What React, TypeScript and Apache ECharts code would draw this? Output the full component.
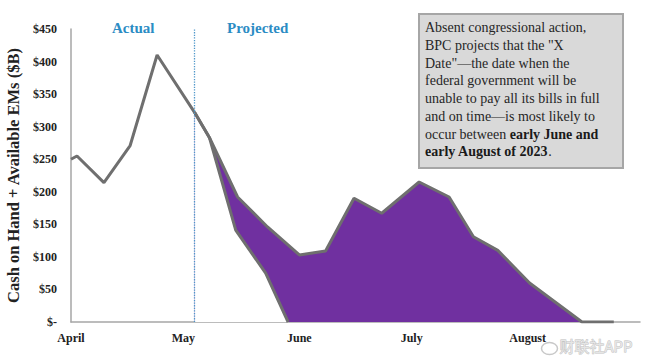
import React, { useEffect, useRef } from "react";
import * as echarts from "echarts";

// x values are days counted from April 1, 2023
const monthTicks = [0, 30, 61, 91, 122];
const monthNames = ["April", "May", "June", "July", "August"];
const yTicksMax = 450;
const yTickStep = 50;

const actualSeries: [number, number][] = [
  [0, 250], [1.6, 255], [8.8, 214], [15.8, 271], [23, 410], [33, 322],
];
const upperBound: [number, number][] = [
  [33, 322], [37, 283], [44.5, 192], [52.5, 146], [61, 103], [68, 109],
  [75.6, 190], [83, 167], [93, 215], [101, 192], [107.5, 131], [114, 110],
  [122.5, 60], [136.5, 0], [145, 0],
];
const lowerBound: [number, number][] = [
  [33, 322], [37, 283], [44, 141], [52, 75], [58, 0],
];
const xDateDay = 33;

const serif = "'Liberation Serif', 'DejaVu Serif', serif";

export default function App() {
  const ref = useRef<HTMLDivElement>(null);
  useEffect(() => {
    if (!ref.current) return;
    const chart = echarts.init(ref.current, undefined, { renderer: "svg" });
    const lineGray = "#6f6f6f";
    chart.setOption({
      animation: false,
      backgroundColor: "#ffffff",
      grid: { left: 71, right: 10, top: 29, bottom: 41, outerBoundsMode: "none", containLabel: false },
      xAxis: {
        type: "value",
        min: 0,
        max: 152,
        axisLine: { show: true, lineStyle: { color: "#a6a6a6", width: 1.5 } },
        axisTick: { show: false },
        splitLine: { show: false },
        axisLabel: {
          customValues: monthTicks,
          showMinLabel: true,
          margin: 10,
          fontFamily: serif,
          fontWeight: "bold",
          fontSize: 12,
          color: "#222",
          formatter: (v: number) => {
            const i = monthTicks.indexOf(v);
            return i >= 0 ? monthNames[i] : "";
          },
        },
      },
      yAxis: {
        type: "value",
        min: 0,
        max: yTicksMax,
        interval: yTickStep,
        name: "Cash on Hand + Available EMs ($B)",
        nameLocation: "middle",
        nameGap: 47,
        nameTextStyle: { fontFamily: serif, fontWeight: "bold", fontSize: 16.5, color: "#222" },
        axisLine: { show: true, lineStyle: { color: "#a6a6a6", width: 1.5 } },
        axisTick: { show: false },
        splitLine: { show: false },
        axisLabel: {
          margin: 14,
          fontFamily: serif,
          fontWeight: "bold",
          fontSize: 12,
          color: "#222",
          formatter: (v: number) => (v === 0 ? "$-" : "$" + v),
        },
      },
      series: [
        {
          type: "line",
          data: actualSeries,
          symbol: "none",
          lineStyle: { color: lineGray, width: 3 },
          markLine: {
            silent: true,
            symbol: "none",
            label: { show: false },
            lineStyle: { type: "dotted", color: "#4f97c9", width: 1.3 },
            data: [{ xAxis: xDateDay }],
          },
        },
        {
          type: "line",
          data: upperBound,
          symbol: "none",
          lineStyle: { color: lineGray, width: 3 },
          areaStyle: { color: "#7030a0", opacity: 1 },
        },
        {
          type: "line",
          data: lowerBound,
          symbol: "none",
          lineStyle: { color: lineGray, width: 3 },
          areaStyle: { color: "#ffffff", opacity: 1 },
        },
      ],
      graphic: [
        {
          type: "text",
          left: 112,
          top: 20,
          style: { text: "Actual", fontFamily: serif, fontWeight: "bold", fontSize: 15, fill: "#2b8cc4" },
        },
        {
          type: "text",
          left: 227,
          top: 20,
          style: { text: "Projected", fontFamily: serif, fontWeight: "bold", fontSize: 15, fill: "#2b8cc4" },
        },
        {
          type: "rect",
          left: 418,
          top: 13,
          shape: { width: 204, height: 154 },
          style: { fill: "#d9d9d9", stroke: "#a6a6a6", lineWidth: 2 },
          z: 10,
        },
        {
          type: "text",
          left: 425,
          top: 19,
          z: 11,
          style: {
            text:
              "Absent congressional action,\n" +
              "BPC projects that the \"X\n" +
              "Date\"\u2014the date when the\n" +
              "federal government will be\n" +
              "unable to pay all its bills in full\n" +
              "and on time\u2014is most likely to\n" +
              "occur between {b|early June and}\n" +
              "{b|early August of 2023}.",
            fontFamily: serif,
            fontSize: 14,
            lineHeight: 17.7,
            fill: "#262626",
            rich: {
              b: { fontFamily: serif, fontSize: 14, fontWeight: "bold", lineHeight: 17.7, fill: "#1a1a1a" },
            },
          },
        },
        {
          type: "ellipse",
          left: 539,
          top: 340,
          shape: { rx: 8, ry: 6 },
          style: { fill: "none", stroke: "#c8c8c8", lineWidth: 1.5 },
          z: 12,
        },
        {
          type: "text",
          left: 559,
          top: 338,
          z: 12,
          style: {
            text: "财联社APP",
            fontFamily: "'Noto Sans CJK SC', sans-serif",
            fontSize: 15,
            fill: "#e6e6e6",
            stroke: "#bdbdbd",
            lineWidth: 0.8,
          },
        },
      ],
    });
    return () => chart.dispose();
  }, []);
  return (
    <div
      ref={ref}
      style={{ position: "fixed", left: 0, top: 0, width: 650, height: 363 }}
    />
  );
}
